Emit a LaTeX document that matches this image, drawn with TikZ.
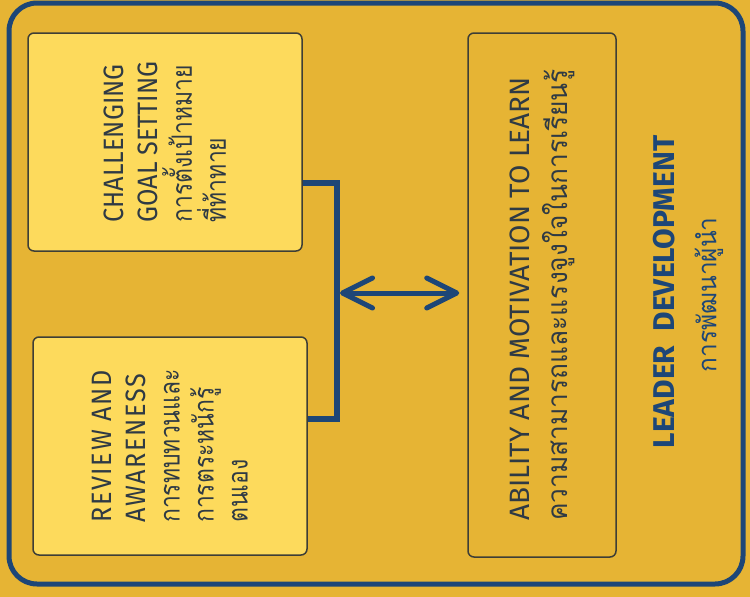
\documentclass[tikz,border=0pt]{standalone}
\usepackage{fontspec}
\setmainfont{Fira Sans}
\newfontfamily\cardfont{Fira Sans}[FakeStretch=0.9]
\newfontfamily\spacedfont{Fira Sans}[FakeStretch=0.9,LetterSpace=6]
\newfontfamily\thaifont[Script=Thai,FakeStretch=0.82]{Loma}
\newfontfamily\thaiwide[Script=Thai,FakeStretch=0.94]{Loma}
\usepackage{tikz}
\usetikzlibrary{calc, positioning}
\usetikzlibrary{arrows.meta}
\definecolor{gold}{HTML}{E6B434}
\definecolor{paleyellow}{HTML}{FDDA5C}
\definecolor{navy}{HTML}{1D4677}
\definecolor{slate}{HTML}{2F3A44}
\definecolor{edgegray}{HTML}{3E3E36}
\tikzset{
	card/.style={draw=edgegray, line width=1.5pt, rounded corners=6pt, rotate=90, align=left, text=slate, inner sep=0pt,
		font=\fontsize{28}{34}\selectfont},
	frame/.style={navy, line width=5pt, rounded corners=28pt},
	link/.style={navy, line width=5.5pt},
	twoway/.style={navy, line width=5pt, line cap=round,
		{Straight Barb[length=30pt,width=30pt,round]}-{Straight Barb[length=30pt,width=30pt,round]}},
}

\begin{document}
\begin{tikzpicture}[x=1pt,y=-1pt]
			\fill [gold] (0,0) rectangle (750,597);
			\draw [frame] (9,3) rectangle (743,584);
			% the three boxes
			\node [card, fill=paleyellow, minimum width=218pt, minimum height=274pt] (goal) at (165,142)
				{\cardfont CHALLENGING\\\cardfont GOAL SETTING\\{\thaifont การตั้งเป้าหมาย}\\{\thaifont ที่ท้าทาย}};
			\node [card, fill=paleyellow, minimum width=218pt, minimum height=274pt] (review) at (170,446)
				{\spacedfont REVIEW AND\\\spacedfont AWARENESS\\{\thaifont การทบทวนและ}\\{\thaifont การตระหนักรู้}\\{\thaifont ตนเอง}};
			\node [card, minimum width=524pt, minimum height=148pt] (ability) at (542,295)
				{ABILITY AND MOTIVATION TO LEARN\\[4pt]{\thaiwide ความสามารถและแรงจูงใจในการเรียนรู้}};
			% connector and arrow
			\coordinate (bus) at (337,293);
			\coordinate (goalend) at ($(goal.south)+(0,41)$);
			\coordinate (reviewend) at ($(review.south)+(0,-27)$);
			\draw [link] (goalend) -| (bus) |- (reviewend);
			\draw [twoway, shorten <=3pt, shorten >=8pt] (bus) -- (ability.north |- bus);
			% title
			\node [rotate=90, text=navy, font=\bfseries\fontsize{30}{32}\selectfont] (lead) at (664,292) {LEADER\ \ DEVELOPMENT};
			\node [rotate=90, text=navy, font=\thaiwide\fontsize{26}{30}\selectfont] (leadth) at (709,295) {การพัฒนาผู้นำ};
		\end{tikzpicture}
\end{document}
